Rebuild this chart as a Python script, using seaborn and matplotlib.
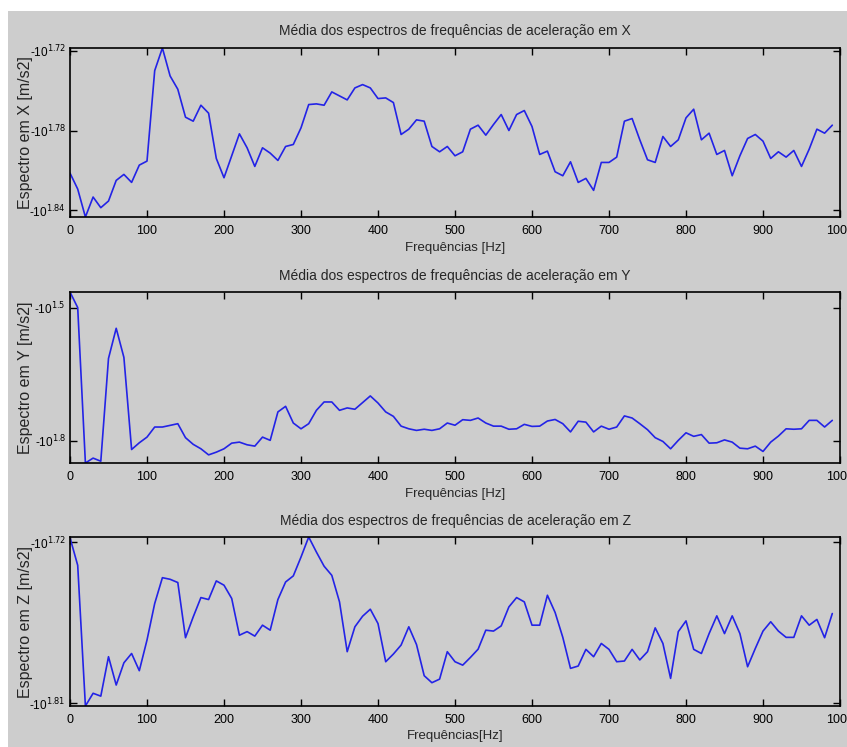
import matplotlib
matplotlib.use("Agg")
import matplotlib.pyplot as plt
from matplotlib.patches import Rectangle
from matplotlib.ticker import FixedLocator, NullLocator
import numpy as np
import seaborn as sns

# Frequencies [Hz]
freq = list(range(0, 1000, 10))

# log10 of spectrum magnitude (spectrum = -10**value)
log_x = [
    1.812, 1.824, 1.845, 1.830, 1.838, 1.833, 1.8175, 1.813, 1.819, 1.806,
    1.803, 1.735, 1.718, 1.739, 1.749, 1.770, 1.773, 1.761, 1.767, 1.801,
    1.8155, 1.799, 1.7825, 1.793, 1.807, 1.793, 1.797, 1.8025, 1.792, 1.7905,
    1.778, 1.7605, 1.760, 1.761, 1.751, 1.754, 1.757, 1.748, 1.7455, 1.748,
    1.756, 1.7555, 1.759, 1.783, 1.779, 1.772, 1.773, 1.792, 1.796, 1.792,
    1.799, 1.796, 1.779, 1.776, 1.7835, 1.7755, 1.768, 1.780, 1.768, 1.765,
    1.777, 1.798, 1.7955, 1.811, 1.814, 1.8035, 1.819, 1.816, 1.825, 1.804,
    1.804, 1.800, 1.773, 1.771, 1.787, 1.802, 1.804, 1.7845, 1.792, 1.787,
    1.7705, 1.764, 1.787, 1.782, 1.798, 1.795, 1.814, 1.799, 1.786, 1.783,
    1.788, 1.801, 1.796, 1.800, 1.795, 1.807, 1.794, 1.779, 1.782, 1.776,
]
log_y = [
    1.465, 1.500, 1.850, 1.839, 1.846, 1.6146, 1.5467, 1.6123, 1.8196, 1.8045,
    1.7917, 1.769, 1.769, 1.7653, 1.7615, 1.793, 1.808, 1.818, 1.8317, 1.8256,
    1.818, 1.8053, 1.803, 1.809, 1.812, 1.7917, 1.799, 1.735, 1.7224, 1.760,
    1.773, 1.7615, 1.7314, 1.7126, 1.7126, 1.7314, 1.726, 1.729, 1.714, 1.699,
    1.715, 1.735, 1.745, 1.767, 1.773, 1.7766, 1.774, 1.7766, 1.773, 1.760,
    1.765, 1.7525, 1.754, 1.7487, 1.760, 1.767, 1.767, 1.774, 1.773, 1.763,
    1.7676, 1.767, 1.7555, 1.752, 1.7615, 1.780, 1.756, 1.758, 1.780, 1.767,
    1.774, 1.769, 1.744, 1.7487, 1.7615, 1.775, 1.793, 1.8015, 1.818, 1.799,
    1.782, 1.790, 1.786, 1.8053, 1.8045, 1.798, 1.803, 1.8166, 1.818, 1.812,
    1.824, 1.803, 1.7894, 1.773, 1.774, 1.773, 1.754, 1.754, 1.769, 1.754,
]
log_z = [
    1.7176, 1.733, 1.8115, 1.8044, 1.806, 1.784, 1.7998, 1.7874, 1.7822, 1.7918,
    1.7747, 1.7543, 1.7399, 1.7408, 1.7426, 1.7734, 1.7618, 1.751, 1.7521, 1.7417,
    1.7441, 1.7515, 1.772, 1.770, 1.7725, 1.7664, 1.7692, 1.7521, 1.7423, 1.7389,
    1.7284, 1.7172, 1.7256, 1.7335, 1.7386, 1.7534, 1.7812, 1.7673, 1.7614, 1.7575,
    1.7655, 1.7868, 1.7825, 1.7775, 1.7673, 1.7772, 1.7946, 1.7985, 1.7965, 1.7812,
    1.7868, 1.7887, 1.7844, 1.7798, 1.7692, 1.7697, 1.7668, 1.7562, 1.751, 1.7534,
    1.7664, 1.7664, 1.7497, 1.7593, 1.7732, 1.7905, 1.7892, 1.7799, 1.784, 1.7766,
    1.7799, 1.7868, 1.7864, 1.7799, 1.7858, 1.7812, 1.7679, 1.7766, 1.7961, 1.770,
    1.764, 1.7799, 1.7822, 1.7711, 1.7612, 1.7711, 1.7612, 1.7711, 1.7896, 1.7794,
    1.7697, 1.7645, 1.7697, 1.7732, 1.7732, 1.7612, 1.7664, 1.7632, 1.7734, 1.7599,
]

axes_names = ["X", "Y", "Z"]
y_ticks = [[1.72, 1.78, 1.84], [1.5, 1.8], [1.72, 1.81]]
y_tick_labels = [["1.72", "1.78", "1.84"], ["1.5", "1.8"], ["1.72", "1.81"]]
x_labels = ["Frequências [Hz]", "Frequências [Hz]", "Frequências[Hz]"]
x_ticks = list(range(0, 1001, 100))

GRAY = "#cdcdcd"
sns.set_style("ticks", {"axes.facecolor": GRAY})
plt.rcParams["font.family"] = ["Liberation Sans Narrow", "Liberation Sans", "DejaVu Sans"]

W, H = 847, 747
fig = plt.figure(figsize=(W / 100, H / 100), dpi=100, facecolor="white")
fig.patches.append(Rectangle((8 / W, 0), 1, 1 - 11 / H, transform=fig.transFigure,
                             facecolor=GRAY, edgecolor="none", zorder=-10))

boxes = [(48, 217), (292, 463), (537, 706)]
series = [log_x, log_y, log_z]

for i, (top, bot) in enumerate(boxes):
    ax = fig.add_axes([70 / W, 1 - bot / H, 770 / W, (bot - top) / H])
    ax.set_facecolor(GRAY)
    mag = 10 ** np.array(series[i])
    sns.lineplot(x=freq, y=mag, ax=ax, color="#2323e6", linewidth=1.2)
    ax.set_yscale("log")
    ax.set_ylim(mag.max(), mag.min())
    ax.set_xlim(0, 1000)
    ax.yaxis.set_major_locator(FixedLocator([10 ** t for t in y_ticks[i]]))
    ax.yaxis.set_minor_locator(NullLocator())
    ax.set_yticklabels([f"-10$^{{{s}}}$" for s in y_tick_labels[i]], fontsize=8.5)
    ax.set_xticks(x_ticks)
    ax.set_xticklabels([str(t) for t in x_ticks], fontsize=9)
    ax.tick_params(direction="in", length=5, width=1, top=True, right=True,
                   colors="black", pad=3)
    ax.tick_params(axis="x", pad=6)
    for sp in ax.spines.values():
        sp.set_visible(True)
        sp.set_color("black")
        sp.set_linewidth(1.2)
    ax.set_title(f"Média dos espectros de frequências de aceleração em {axes_names[i]}",
                 fontsize=10, pad=9)
    ax.set_xlabel(x_labels[i], fontsize=9.5, labelpad=3)
    ax.set_ylabel(f"Espectro em {axes_names[i]} [m/s2]", fontsize=11.5,
                  family="Liberation Sans")
    ax.yaxis.set_label_coords(-0.048, 0.5)

fig.savefig("out.png", dpi=100, facecolor=fig.get_facecolor())
